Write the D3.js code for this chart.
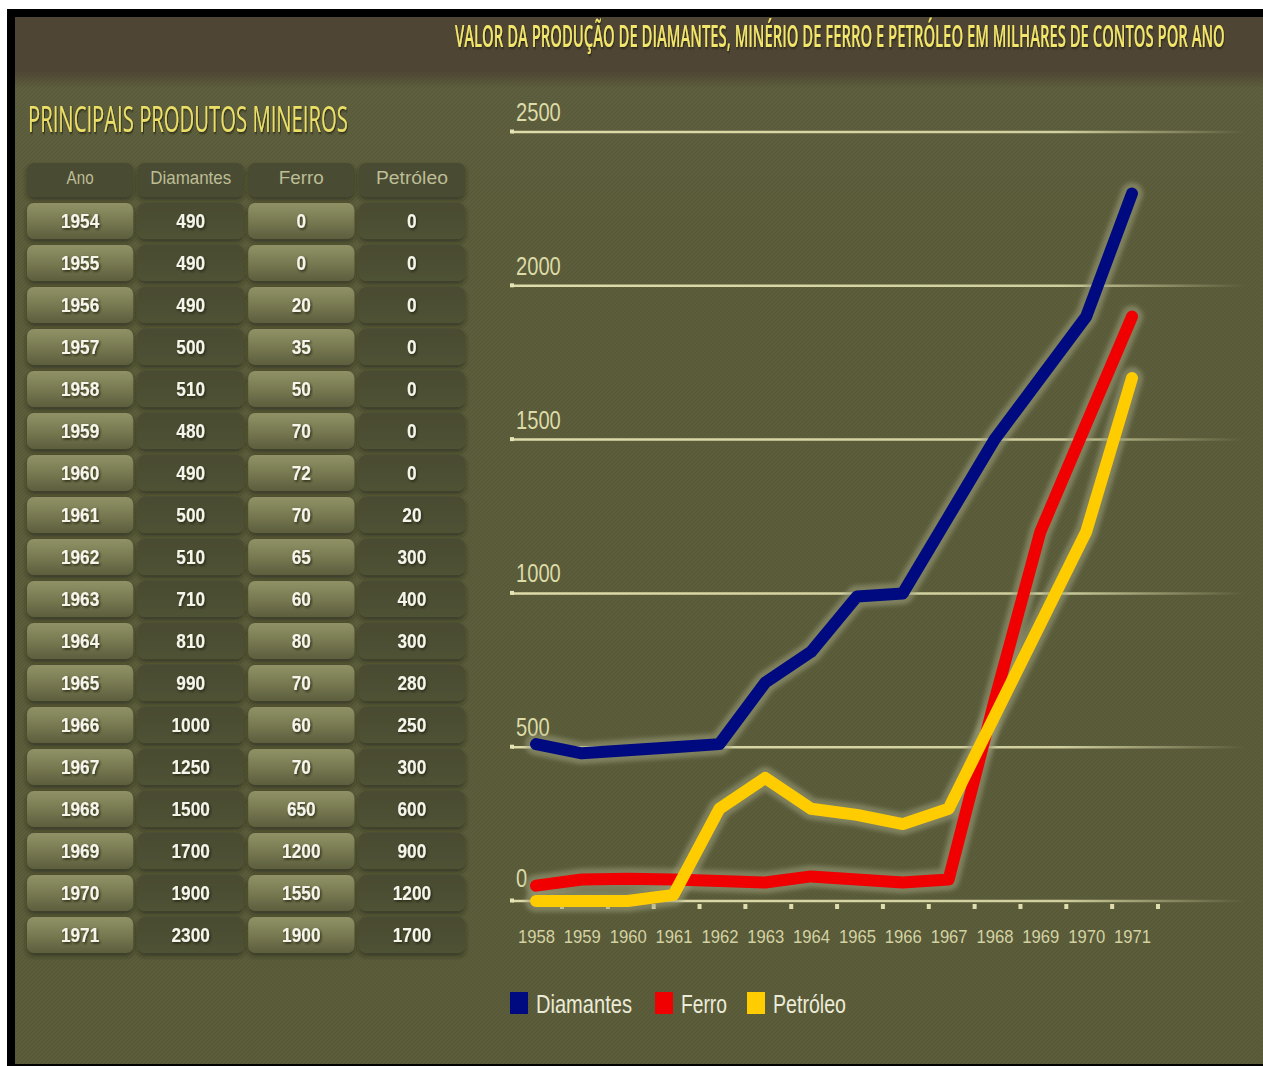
<!DOCTYPE html>
<html>
<head>
<meta charset="utf-8">
<script src="https://cdn.jsdelivr.net/npm/d3@7"></script>
<style>
  html, body { margin: 0; padding: 0; background: #ffffff; }
  svg { display: block; }
</style>
</head>
<body>
<svg id="chart" width="1263" height="1066"></svg>
<script>
// ---------------- DATA ----------------
const years     = [1954, 1955, 1956, 1957, 1958, 1959, 1960, 1961, 1962, 1963, 1964, 1965, 1966, 1967, 1968, 1969, 1970, 1971];
const diamantes = [490, 490, 490, 500, 510, 480, 490, 500, 510, 710, 810, 990, 1000, 1250, 1500, 1700, 1900, 2300];
const ferro     = [0, 0, 20, 35, 50, 70, 72, 70, 65, 60, 80, 70, 60, 70, 650, 1200, 1550, 1900];
const petroleo  = [0, 0, 0, 0, 0, 0, 0, 20, 300, 400, 300, 280, 250, 300, 600, 900, 1200, 1700];

const tableHeaders = ["Ano", "Diamantes", "Ferro", "Petróleo"];
const chartYears   = [1958, 1959, 1960, 1961, 1962, 1963, 1964, 1965, 1966, 1967, 1968, 1969, 1970, 1971];
const yTickValues  = [0, 500, 1000, 1500, 2000, 2500];
const seriesNames  = ["Diamantes", "Ferro", "Petróleo"];
const seriesColors = ["#000a80", "#f00000", "#ffcc00"];

const titleText    = "VALOR DA PRODUÇÃO DE DIAMANTES, MINÉRIO DE FERRO E PETRÓLEO EM MILHARES DE CONTOS POR ANO";
const subtitleText = "PRINCIPAIS PRODUTOS MINEIROS";

// ---------------- SETUP ----------------
const svg = d3.select("#chart");
const defs = svg.append("defs");

const tShadow = defs.append("filter").attr("id", "tshadow").attr("x", "-10%").attr("y", "-30%").attr("width", "120%").attr("height", "160%");
tShadow.append("feDropShadow").attr("dx", 1.5).attr("dy", 1.5).attr("stdDeviation", 1.2)
  .attr("flood-color", "#1e1a0c").attr("flood-opacity", 0.85);

const cShadow = defs.append("filter").attr("id", "cshadow").attr("x", "-10%").attr("y", "-20%").attr("width", "120%").attr("height", "160%");
cShadow.append("feDropShadow").attr("dx", 0).attr("dy", 3).attr("stdDeviation", 2.5)
  .attr("flood-color", "#1a1a08").attr("flood-opacity", 0.55);

const halo = defs.append("filter").attr("id", "halo").attr("x", "-10%").attr("y", "-10%").attr("width", "120%").attr("height", "120%");
halo.append("feGaussianBlur").attr("stdDeviation", 2);

const bgGrad = defs.append("linearGradient").attr("id", "bggrad").attr("x1", 0).attr("y1", 0).attr("x2", 0).attr("y2", 1);
bgGrad.append("stop").attr("offset", "0").attr("stop-color", "#4f4534");
bgGrad.append("stop").attr("offset", "0.052").attr("stop-color", "#4f4534");
bgGrad.append("stop").attr("offset", "0.068").attr("stop-color", "#5d5f3e");
bgGrad.append("stop").attr("offset", "0.2").attr("stop-color", "#5b5d3b");
bgGrad.append("stop").attr("offset", "1").attr("stop-color", "#5a5c3a");

const lightCell = defs.append("linearGradient").attr("id", "lightcell").attr("x1", 0).attr("y1", 0).attr("x2", 0).attr("y2", 1);
lightCell.append("stop").attr("offset", "0").attr("stop-color", "#909266");
lightCell.append("stop").attr("offset", "0.55").attr("stop-color", "#75774f");
lightCell.append("stop").attr("offset", "1").attr("stop-color", "#5c5e3e");

const darkCell = defs.append("linearGradient").attr("id", "darkcell").attr("x1", 0).attr("y1", 0).attr("x2", 0).attr("y2", 1);
darkCell.append("stop").attr("offset", "0").attr("stop-color", "#4a4b31");
darkCell.append("stop").attr("offset", "1").attr("stop-color", "#505236");

const gridGrad = defs.append("linearGradient").attr("id", "gridgrad")
  .attr("gradientUnits", "userSpaceOnUse").attr("x1", 512).attr("x2", 1245).attr("y1", 0).attr("y2", 0);
gridGrad.append("stop").attr("offset", "0").attr("stop-color", "#dedcaa").attr("stop-opacity", 1);
gridGrad.append("stop").attr("offset", "0.75").attr("stop-color", "#dedcaa").attr("stop-opacity", 0.9);
gridGrad.append("stop").attr("offset", "1").attr("stop-color", "#dedcaa").attr("stop-opacity", 0);

const pat = defs.append("pattern").attr("id", "tex").attr("width", 4).attr("height", 4).attr("patternUnits", "userSpaceOnUse");
pat.append("path").attr("d", "M0,4 L4,0").attr("stroke", "#000").attr("stroke-opacity", 0.06).attr("stroke-width", 1);

// condensed text helper: draws text then squeezes it horizontally to a target width
function condensed(parent, str, x, y, width, opts) {
  const t = parent.append("text")
    .attr("text-anchor", opts.anchor || "start")
    .attr("font-family", opts.family || "Arial, 'Liberation Sans', sans-serif")
    .attr("font-weight", opts.weight || 400)
    .attr("font-size", opts.size)
    .attr("fill", opts.fill)
    .text(str);
  if (opts.filter) t.attr("filter", opts.filter);
  const natural = t.node().getComputedTextLength();
  const s = natural > 0 ? width / natural : 1;
  t.attr("transform", `translate(${x},${y}) scale(${s},1)`);
  return t;
}

// ---------------- BACKGROUND / FRAME ----------------
svg.append("rect").attr("x", 7).attr("y", 9).attr("width", 1256).attr("height", 1057).attr("fill", "#000");
svg.append("rect").attr("x", 15).attr("y", 17).attr("width", 1248).attr("height", 1047).attr("fill", "url(#bggrad)");
svg.append("rect").attr("x", 15).attr("y", 74).attr("width", 1248).attr("height", 990).attr("fill", "url(#tex)");

// ---------------- TITLES ----------------
condensed(svg, titleText, 455, 47, 770, {
  family: "'Open Sans', 'Noto Sans', sans-serif", weight: 600, size: 31,
  fill: "#f3e66c", filter: "url(#tshadow)"
});
condensed(svg, subtitleText, 28, 132, 320, {
  family: "'Open Sans', 'Noto Sans', sans-serif", weight: 500, size: 37,
  fill: "#ecdf68", filter: "url(#tshadow)"
});

// ---------------- TABLE ----------------
const colX = d3.scaleBand().domain(tableHeaders).range([27, 465]).paddingInner(0.04);
const rowY = d3.scaleLinear().domain([0, years.length - 1]).range([221, 935]);
const cellH = 36;
const tableCols = [years, diamantes, ferro, petroleo];

const tbl = svg.append("g");

tableHeaders.forEach((h) => {
  tbl.append("rect")
    .attr("x", colX(h)).attr("y", 163).attr("width", colX.bandwidth()).attr("height", 34)
    .attr("rx", 7).attr("fill", "#4a4b32").attr("filter", "url(#cshadow)");
  condensed(tbl, h, colX(h) + colX.bandwidth() / 2, 184, h.length * 9, {
    anchor: "middle", size: 19, fill: "#bdbd96"
  });
});

years.forEach((yr, ri) => {
  tableCols.forEach((col, ci) => {
    const h = tableHeaders[ci];
    const light = (ci === 0 || ci === 2);
    const cy = rowY(ri);
    tbl.append("rect")
      .attr("x", colX(h)).attr("y", cy - cellH / 2).attr("width", colX.bandwidth()).attr("height", cellH)
      .attr("rx", 7)
      .attr("fill", light ? "url(#lightcell)" : "url(#darkcell)")
      .attr("filter", "url(#cshadow)");
  });
});
years.forEach((yr, ri) => {
  tableCols.forEach((col, ci) => {
    const h = tableHeaders[ci];
    const cy = rowY(ri);
    const label = String(col[ri]);
    condensed(tbl, label, colX(h) + colX.bandwidth() / 2, cy + 7, label.length * 9.6, {
      anchor: "middle", weight: 700, size: 21, fill: "#f6f5ea", filter: "url(#tshadow)"
    });
  });
});

// ---------------- CHART ----------------
const x = d3.scaleLinear().domain([1958, 1971]).range([536, 1132]);
const y = d3.scaleLinear().domain([0, 2500]).range([901, 132]);

const chart = svg.append("g");

yTickValues.forEach(v => {
  chart.append("line")
    .attr("x1", 512).attr("x2", 1245)
    .attr("y1", y(v)).attr("y2", y(v))
    .attr("stroke", "url(#gridgrad)").attr("stroke-width", 2.5);
  chart.append("rect")
    .attr("x", 510).attr("y", y(v) - 2.5).attr("width", 4).attr("height", 4)
    .attr("fill", "#e6e4b4");
  const s = String(v);
  condensed(chart, s, 516, y(v) - (v === 0 ? 14 : 11), s.length * 11.2, {
    size: 25, fill: "#dddba8"
  });
});

// x axis
const xAxis = d3.axisBottom(x).tickValues(chartYears).tickFormat(d3.format("d")).tickSize(0).tickPadding(0);
const gx = chart.append("g").attr("transform", "translate(0,943)").call(xAxis);
gx.select(".domain").remove();
gx.selectAll("text")
  .attr("font-family", "Arial, 'Liberation Sans', sans-serif")
  .attr("font-size", 19)
  .attr("fill", "#d4d2a2")
  .attr("dy", 0)
  .attr("y", 0)
  .each(function () {
    const n = this.getComputedTextLength();
    d3.select(this).attr("transform", `scale(${37 / n},1)`);
  });

// tick squares
chart.selectAll("rect.tick")
  .data(chartYears).enter().append("rect")
  .attr("class", "tick")
  .attr("x", d => x(d) + 24).attr("y", 904).attr("width", 4).attr("height", 5)
  .attr("fill", "#e0deae");

// series lines
const seriesData = [diamantes, ferro, petroleo].map(arr =>
  chartYears.map(yr => ({ year: yr, value: arr[years.indexOf(yr)] })));

const line = d3.line().x(d => x(d.year)).y(d => y(d.value)).curve(d3.curveLinear);

seriesData.forEach((s) => {
  chart.append("path").datum(s)
    .attr("d", line)
    .attr("fill", "none")
    .attr("stroke", "#9fa07c").attr("stroke-opacity", 0.55)
    .attr("stroke-width", 22)
    .attr("stroke-linejoin", "round").attr("stroke-linecap", "round")
    .attr("filter", "url(#halo)");
});
seriesData.forEach((s, i) => {
  chart.append("path").datum(s)
    .attr("d", line)
    .attr("fill", "none")
    .attr("stroke", seriesColors[i])
    .attr("stroke-width", 12)
    .attr("stroke-linejoin", "round").attr("stroke-linecap", "round");
});

// ---------------- LEGEND ----------------
const legendX = [510, 655, 747];
const legendW = [96, 46, 73];
seriesNames.forEach((n, i) => {
  svg.append("rect")
    .attr("x", legendX[i]).attr("y", 992).attr("width", 18).attr("height", 22)
    .attr("fill", seriesColors[i]);
  condensed(svg, n, legendX[i] + 26, 1013, legendW[i], {
    size: 25, fill: "#ecebd8"
  });
});
</script>
</body>
</html>
